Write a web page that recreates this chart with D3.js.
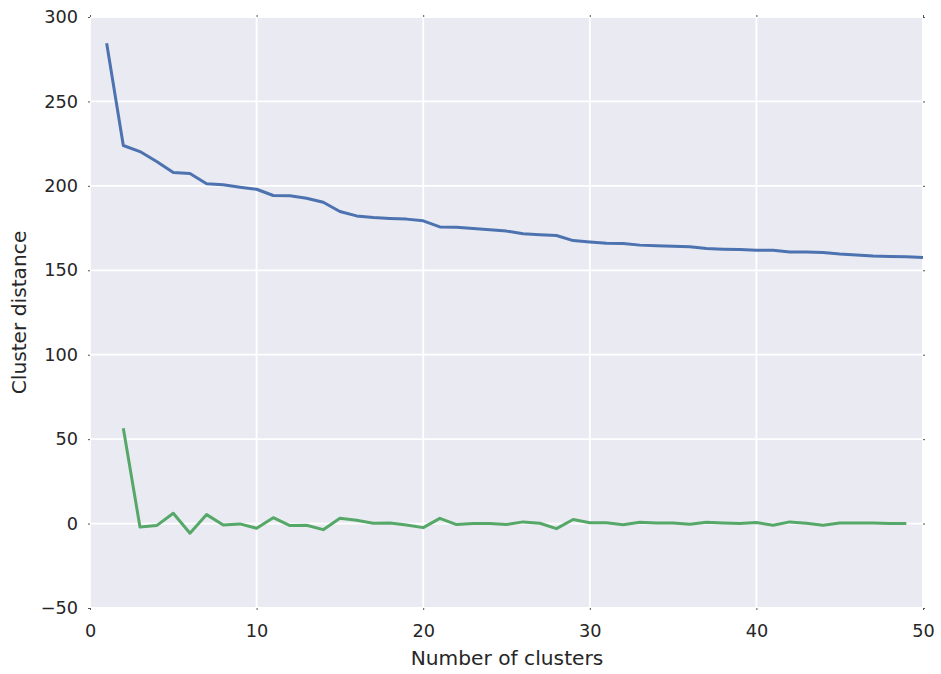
<!DOCTYPE html>
<html>
<head>
<meta charset="utf-8">
<script src="https://cdn.jsdelivr.net/npm/d3@7"></script>
<style>
  html, body { margin: 0; padding: 0; background: #ffffff; }
  svg { display: block; font-family: "DejaVu Sans", sans-serif; }
</style>
</head>
<body>
<svg id="chart" width="941" height="674"></svg>
<script>
// Cluster distance per number of clusters (blue) and its change (green)
const clusters = d3.range(1, 51);
const distance = [
  284.4, 223.9, 220.3, 214.4, 207.9, 207.3, 201.2, 200.6, 199.2, 198.0,
  194.3, 194.1, 192.7, 190.3, 184.8, 182.2, 181.3, 180.7, 180.3, 179.3,
  175.7, 175.5, 174.8, 174.0, 173.2, 171.6, 171.0, 170.6, 167.6, 166.7,
  166.0, 165.8, 164.9, 164.5, 164.3, 163.9, 162.9, 162.5, 162.3, 161.9,
  161.9, 160.8, 160.8, 160.6, 159.6, 159.0, 158.4, 158.2, 158.0, 157.6
];
const changeClusters = d3.range(2, 50);
const change = [
  56.4, -2.0, -1.2, 6.1, -5.7, 5.3, -0.8, -0.2, -2.8, 3.5,
  -1.2, -1.0, -3.6, 3.1, 2.0, 0.2, 0.4, -0.8, -2.4, 3.1,
  -0.6, 0.0, 0.0, -0.6, 1.0, 0.2, -3.0, 2.4, 0.5, 0.5,
  -0.7, 0.8, 0.4, 0.4, -0.4, 0.8, 0.4, 0.0, 0.6, -1.0,
  1.0, 0.2, -1.0, 0.4, 0.4, 0.4, 0.0, 0.0
];
const xTicks = [0, 10, 20, 30, 40, 50];
const yTicks = [-50, 0, 50, 100, 150, 200, 250, 300];

const svg = d3.select("#chart");
const margin = { left: 90, top: 17, right: 941 - 923, bottom: 674 - 608 };
const W = 941 - margin.left - margin.right;
const H = 674 - margin.top - margin.bottom;

const x = d3.scaleLinear().domain([0, 50]).range([0, W]);
const y = d3.scaleLinear().domain([-50, 300]).range([H, 0]);

const g = svg.append("g").attr("transform", `translate(${margin.left},${margin.top})`);

g.append("rect").attr("width", W).attr("height", H).attr("fill", "#EAEAF2");

// grid
g.append("g").selectAll("line").data(xTicks).join("line")
  .attr("x1", d => x(d)).attr("x2", d => x(d)).attr("y1", 0).attr("y2", H)
  .attr("stroke", "#ffffff").attr("stroke-width", 1.8);
g.append("g").selectAll("line").data(yTicks).join("line")
  .attr("x1", 0).attr("x2", W).attr("y1", d => y(d)).attr("y2", d => y(d))
  .attr("stroke", "#ffffff").attr("stroke-width", 1.8);

// axes (labels + tiny ticks)
const xAxis = d3.axisBottom(x).tickValues(xTicks).tickSize(2).tickPadding(14.5).tickFormat(d3.format("d"));
const yAxis = d3.axisLeft(y).tickValues(yTicks).tickSize(2).tickPadding(10)
  .tickFormat(d => d < 0 ? "\u2212" + Math.abs(d) : String(d));

const gx = g.append("g").attr("transform", `translate(0,${H})`).call(xAxis);
const gy = g.append("g").call(yAxis);
const gxTop = g.append("g").call(d3.axisTop(x).tickValues(xTicks).tickSize(2).tickFormat(""));
const gyRight = g.append("g").attr("transform", `translate(${W},0)`).call(d3.axisRight(y).tickValues(yTicks).tickSize(2).tickFormat(""));

[gx, gy, gxTop, gyRight].forEach(a => {
  a.select(".domain").remove();
  a.selectAll(".tick line").attr("stroke", "#555555").attr("stroke-width", 1);
  a.selectAll(".tick text").attr("fill", "#262626").attr("font-size", 17.7)
    .attr("font-family", "DejaVu Sans, sans-serif");
});

// lines
const line = d3.line().x(d => x(d[0])).y(d => y(d[1]));
g.append("path")
  .datum(clusters.map((c, i) => [c, distance[i]]))
  .attr("d", line).attr("fill", "none")
  .attr("stroke", "#4C72B0").attr("stroke-width", 3).attr("stroke-linejoin", "round");
g.append("path")
  .datum(changeClusters.map((c, i) => [c, change[i]]))
  .attr("d", line).attr("fill", "none")
  .attr("stroke", "#55A868").attr("stroke-width", 3).attr("stroke-linejoin", "round");

// axis titles
svg.append("text")
  .attr("x", margin.left + W / 2 + 0.5).attr("y", 665)
  .attr("text-anchor", "middle").attr("fill", "#262626").attr("font-size", 20.2)
  .text("Number of clusters");
svg.append("text")
  .attr("transform", `translate(26,${margin.top + H / 2}) rotate(-90)`)
  .attr("text-anchor", "middle").attr("fill", "#262626").attr("font-size", 20.2)
  .text("Cluster distance");
</script>
</body>
</html>
